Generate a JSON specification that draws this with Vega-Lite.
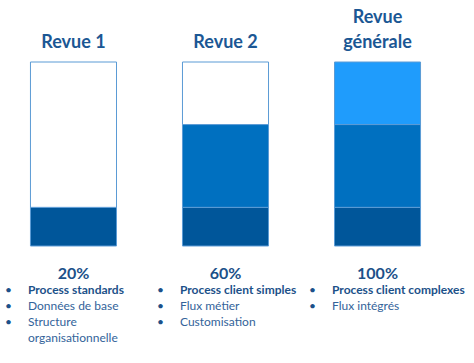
{
  "$schema": "https://vega.github.io/schema/vega-lite/v6.json",
  "width": 474,
  "height": 301,
  "autosize": {"type": "none"},
  "padding": {"top": 62, "left": 0, "right": 0, "bottom": 0},
  "background": "white",
  "config": {"view": {"stroke": null}},
  "datasets": {
    "bars": [
      {"revue": "Revue 1", "segment": "base", "valeur": 21, "ordre": 1},
      {"revue": "Revue 1", "segment": "vide", "valeur": 79, "ordre": 2},
      {"revue": "Revue 2", "segment": "base", "valeur": 21, "ordre": 1},
      {"revue": "Revue 2", "segment": "milieu", "valeur": 45, "ordre": 2},
      {"revue": "Revue 2", "segment": "vide", "valeur": 34, "ordre": 3},
      {"revue": "Revue générale", "segment": "base", "valeur": 21, "ordre": 1},
      {"revue": "Revue générale", "segment": "milieu", "valeur": 45, "ordre": 2},
      {"revue": "Revue générale", "segment": "haut", "valeur": 34, "ordre": 3}
    ],
    "titres": [
      {"revue": "Revue 1", "ligne": 0, "texte": "Revue 1"},
      {"revue": "Revue 2", "ligne": 0, "texte": "Revue 2"},
      {"revue": "Revue générale", "ligne": 1, "texte": "Revue"},
      {"revue": "Revue générale", "ligne": 0, "texte": "générale"}
    ],
    "items": [
      {"revue": "Revue 1", "ligne": 0, "texte": "20%", "style": "pct", "puce": false},
      {"revue": "Revue 1", "ligne": 1, "texte": "Process standards", "style": "gras", "puce": true},
      {"revue": "Revue 1", "ligne": 2, "texte": "Données de base", "style": "normal", "puce": true},
      {"revue": "Revue 1", "ligne": 3, "texte": "Structure", "style": "normal", "puce": true},
      {"revue": "Revue 1", "ligne": 4, "texte": "organisationnelle", "style": "normal", "puce": false},
      {"revue": "Revue 2", "ligne": 0, "texte": "60%", "style": "pct", "puce": false},
      {"revue": "Revue 2", "ligne": 1, "texte": "Process client simples", "style": "gras", "puce": true},
      {"revue": "Revue 2", "ligne": 2, "texte": "Flux métier", "style": "normal", "puce": true},
      {"revue": "Revue 2", "ligne": 3, "texte": "Customisation", "style": "normal", "puce": true},
      {"revue": "Revue générale", "ligne": 0, "texte": "100%", "style": "pct", "puce": false},
      {"revue": "Revue générale", "ligne": 1, "texte": "Process client complexes", "style": "gras", "puce": true},
      {"revue": "Revue générale", "ligne": 2, "texte": "Flux intégrés", "style": "normal", "puce": true}
    ]
  },
  "layer": [
    {
      "data": {"name": "bars"},
      "mark": {"type": "bar", "stroke": "#5b9bd5", "strokeWidth": 1},
      "encoding": {
        "x": {
          "field": "revue", "type": "nominal",
          "sort": ["Revue 1", "Revue 2", "Revue générale"],
          "scale": {"paddingInner": 0.434, "paddingOuter": 0.276, "align": 0.363},
          "axis": null
        },
        "y": {"field": "valeur", "type": "quantitative", "stack": "zero",
              "scale": {"domain": [-63.6, 100], "nice": false, "zero": false}, "axis": null},
        "color": {"field": "segment", "type": "nominal",
                  "scale": {"domain": ["base", "milieu", "haut", "vide"],
                            "range": ["#00569a", "#0070c0", "#1f9cfc", "#ffffff"]},
                  "legend": null},
        "order": {"field": "ordre", "type": "quantitative"}
      }
    },
    {
      "data": {"name": "titres"},
      "mark": {"type": "text", "font": "Lato", "fontSize": 18, "fontWeight": "bold",
               "color": "#1b5794", "align": "center", "baseline": "middle"},
      "encoding": {
        "x": {"field": "revue", "type": "nominal", "sort": ["Revue 1", "Revue 2", "Revue générale"], "axis": null},
        "y": {"field": "ligne", "type": "quantitative",
              "scale": {"domain": [-12.8, -0.76], "nice": false, "zero": false}, "axis": null},
        "text": {"field": "texte"}
      }
    },
    {
      "data": {"name": "items"},
      "transform": [{"filter": "datum.style == 'pct'"}],
      "mark": {"type": "text", "font": "Lato", "fontSize": 16, "fontWeight": "bold",
               "color": "#1c5189", "align": "center", "baseline": "middle"},
      "encoding": {
        "x": {"field": "revue", "type": "nominal", "sort": ["Revue 1", "Revue 2", "Revue générale"], "axis": null},
        "y": {"field": "ligne", "type": "quantitative",
              "scale": {"domain": [-13.25, 5.5625], "nice": false, "zero": false, "reverse": true}, "axis": null},
        "text": {"field": "texte"}
      }
    },
    {
      "data": {"name": "items"},
      "transform": [{"filter": "datum.style == 'gras'"}],
      "mark": {"type": "text", "font": "Lato", "fontSize": 12, "fontWeight": "bold",
               "color": "#1c5189", "align": "left", "baseline": "middle", "dx": -2.5},
      "encoding": {
        "x": {"field": "revue", "type": "nominal", "sort": ["Revue 1", "Revue 2", "Revue générale"], "bandPosition": 0, "axis": null},
        "y": {"field": "ligne", "type": "quantitative",
              "scale": {"domain": [-13.25, 5.5625], "nice": false, "zero": false, "reverse": true}, "axis": null},
        "text": {"field": "texte"}
      }
    },
    {
      "data": {"name": "items"},
      "transform": [{"filter": "datum.style == 'normal'"}],
      "mark": {"type": "text", "font": "Lato", "fontSize": 12,
               "color": "#33639a", "align": "left", "baseline": "middle", "dx": -2.5},
      "encoding": {
        "x": {"field": "revue", "type": "nominal", "sort": ["Revue 1", "Revue 2", "Revue générale"], "bandPosition": 0, "axis": null},
        "y": {"field": "ligne", "type": "quantitative",
              "scale": {"domain": [-13.25, 5.5625], "nice": false, "zero": false, "reverse": true}, "axis": null},
        "text": {"field": "texte"}
      }
    },
    {
      "data": {"name": "items"},
      "transform": [{"filter": "datum.puce"}],
      "mark": {"type": "text", "font": "Lato", "fontSize": 12,
               "color": "#1c5189", "align": "center", "baseline": "middle", "dx": -22},
      "encoding": {
        "x": {"field": "revue", "type": "nominal", "sort": ["Revue 1", "Revue 2", "Revue générale"], "bandPosition": 0, "axis": null},
        "y": {"field": "ligne", "type": "quantitative",
              "scale": {"domain": [-13.25, 5.5625], "nice": false, "zero": false, "reverse": true}, "axis": null},
        "text": {"value": "•"}
      }
    }
  ],
  "resolve": {"scale": {"y": "independent"}}
}
